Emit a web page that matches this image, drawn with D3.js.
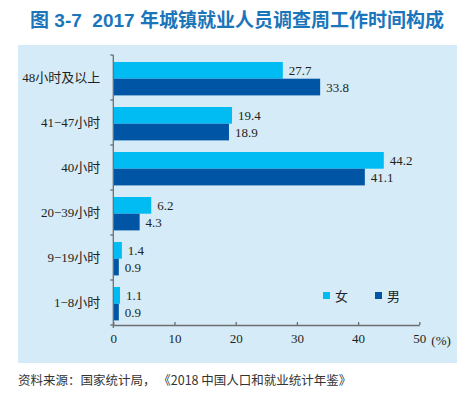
<!DOCTYPE html>
<html>
<head>
<meta charset="utf-8">
<script src="https://cdn.jsdelivr.net/npm/d3@7"></script>
<style>
  body { margin: 0; background: #fff; }
  svg { display: block; }
</style>
</head>
<body>
<svg id="chart" width="475" height="396"></svg>
<script>
// data
var categories = ['48小时及以上', '41−47小时', '40小时', '20−39小时', '9−19小时', '1−8小时']
var female = [27.7, 19.4, 44.2, 6.2, 1.4, 1.1]
var male = [33.8, 18.9, 41.1, 4.3, 0.9, 0.9]
var seriesNames = ['女', '男']
var xTicks = [0, 10, 20, 30, 40, 50]

var colFemale = '#00bcf2'
var colMale = '#0055a4'
var serif = '"Liberation Serif", "Times New Roman", "Noto Sans CJK SC", serif'
var cjk = '"Liberation Serif", "Noto Sans CJK SC", serif'

svg = d3.select('#chart')

// title
svg.append('text')
  .attr('x', 237)
  .attr('y', 27)
  .attr('text-anchor', 'middle')
  .style('white-space', 'pre')
  .style('font-family', '"Liberation Sans", "Noto Sans CJK SC", sans-serif')
  .style('font-weight', 'bold')
  .style('font-size', '19px')
  .style('fill', '#1b75bb')
  .text('图 3-7  2017 年城镇就业人员调查周工作时间构成')

// panel
svg.append('rect')
  .attr('x', 18).attr('y', 45)
  .attr('width', 439).attr('height', 318)
  .attr('fill', '#d5ebf8')

margin = {left: 113.3, top: 55, right: 419.3, bottom: 325}

xScale = d3.scaleLinear().domain([0, 50]).range([margin.left, margin.right])
yScale = d3.scaleBand().domain(categories).range([margin.top, margin.bottom])

plot = svg.append('g')

// bars
var rows = categories.map(function(c, i){ return {cat: c, f: female[i], m: male[i]} })
var barH = 16.7
var topPad = 7

plot.selectAll('.barF').data(rows)
  .enter().append('rect')
  .attr('class', 'barF')
  .attr('x', xScale(0))
  .attr('y', function(d){ return yScale(d.cat) + topPad })
  .attr('width', function(d){ return xScale(d.f) - xScale(0) })
  .attr('height', barH)
  .attr('fill', colFemale)

plot.selectAll('.barM').data(rows)
  .enter().append('rect')
  .attr('class', 'barM')
  .attr('x', xScale(0))
  .attr('y', function(d){ return yScale(d.cat) + topPad + barH })
  .attr('width', function(d){ return xScale(d.m) - xScale(0) })
  .attr('height', barH)
  .attr('fill', colMale)

// value labels
plot.selectAll('.valF').data(rows)
  .enter().append('text')
  .attr('x', function(d){ return xScale(d.f) + 6 })
  .attr('y', function(d){ return yScale(d.cat) + topPad + barH/2 + 4.5 })
  .style('font-family', serif)
  .style('font-size', '13px')
  .style('fill', '#231f20')
  .text(function(d){ return d.f.toFixed(1) })

plot.selectAll('.valM').data(rows)
  .enter().append('text')
  .attr('x', function(d){ return xScale(d.m) + 6 })
  .attr('y', function(d){ return yScale(d.cat) + topPad + barH*1.5 + 4.5 })
  .style('font-family', serif)
  .style('font-size', '13px')
  .style('fill', '#231f20')
  .text(function(d){ return d.m.toFixed(1) })

// y axis
var axisCol = '#6d6e71'
yAx = plot.append('g').attr('transform', 'translate(' + margin.left + ',0)')
yAx.append('line')
  .attr('x1', 0).attr('x2', 0)
  .attr('y1', margin.top).attr('y2', margin.bottom + 3)
  .attr('stroke', axisCol).attr('stroke-width', 1.3)
var bounds = categories.map(function(c){ return yScale(c) }).concat([margin.bottom])
yAx.selectAll('.ytick').data(bounds)
  .enter().append('line')
  .attr('x1', -3).attr('x2', 0)
  .attr('y1', function(d){ return d }).attr('y2', function(d){ return d })
  .attr('stroke', axisCol).attr('stroke-width', 1.3)
yAx.selectAll('.ylab').data(categories)
  .enter().append('text')
  .attr('x', -13)
  .attr('y', function(d){ return yScale(d) + yScale.bandwidth()/2 + 4.5 })
  .attr('text-anchor', 'end')
  .style('font-family', cjk)
  .style('font-size', '13px')
  .style('fill', '#231f20')
  .text(function(d){ return d })

// x axis
xAx = plot.append('g').attr('transform', 'translate(0,' + margin.bottom + ')')
  .call(d3.axisBottom(xScale).tickValues(xTicks).tickSizeInner(-3).tickSizeOuter(0).tickPadding(9))
xAx.selectAll('.domain').attr('stroke', axisCol).attr('stroke-width', 1.3)
xAx.selectAll('.tick line').attr('stroke', axisCol).attr('stroke-width', 1.3)
xAx.selectAll('.tick text')
  .style('font-family', serif)
  .style('font-size', '13px')
  .style('fill', '#231f20')
xAx.append('text')
  .attr('x', xScale(50) + 12)
  .attr('y', 20)
  .attr('text-anchor', 'start')
  .style('font-family', serif)
  .style('font-size', '13px')
  .style('fill', '#231f20')
  .text('(%)')

// legend
var legCols = [colFemale, colMale]
var legX = [323, 375]
seriesNames.forEach(function(n, i){
  svg.append('rect')
    .attr('x', legX[i]).attr('y', 292)
    .attr('width', 7).attr('height', 7)
    .attr('fill', legCols[i])
  svg.append('text')
    .attr('x', legX[i] + 12).attr('y', 300.5)
    .style('font-family', cjk)
    .style('font-size', '13px')
    .style('fill', '#231f20')
    .text(n)
})

// source
svg.append('text')
  .attr('x', 18).attr('y', 385)
  .style('white-space', 'pre')
  .style('font-family', '"Noto Sans CJK SC", sans-serif')
  .style('font-size', '12.5px')
  .style('fill', '#333')
  .text('资料来源：国家统计局， 《2018 中国人口和就业统计年鉴》')
</script>
</body>
</html>
